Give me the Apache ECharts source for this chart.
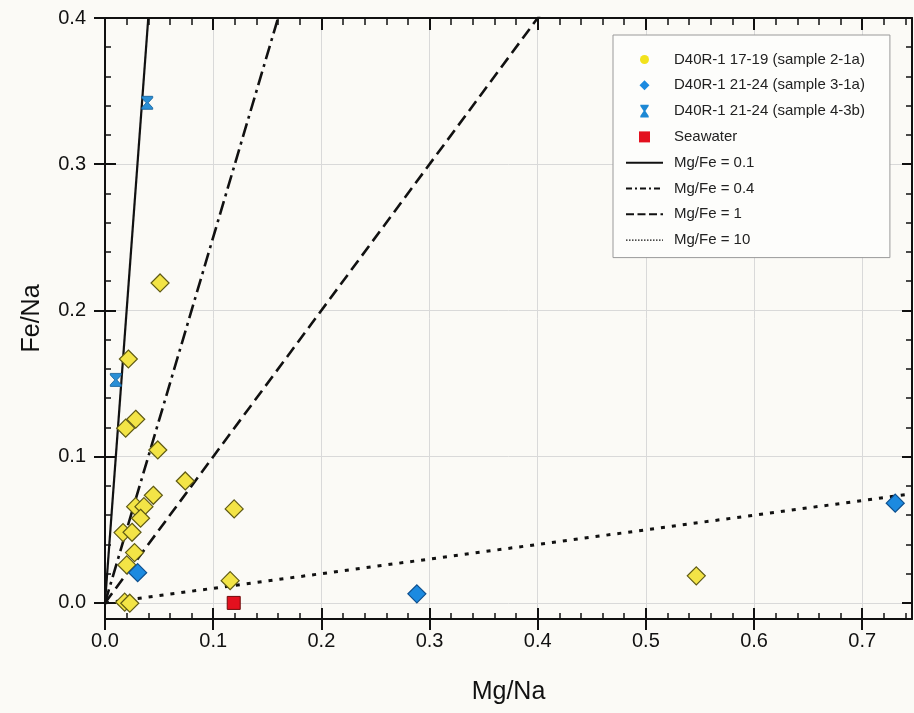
<!DOCTYPE html>
<html>
<head>
<meta charset="utf-8">
<script src="https://cdn.jsdelivr.net/npm/echarts@6/dist/echarts.min.js"></script>
<style>
  html, body { margin: 0; padding: 0; background: #fbfaf6; }
  #chart { width: 914px; height: 713px; }
</style>
</head>
<body>
<div id="chart"></div>
<script>
// Fe/Na versus Mg/Na (molar ratios) of fluid samples, with constant Mg/Fe reference lines

// D40R-1 17-19 (sample 2-1a): [Mg/Na, Fe/Na]
const sample21a = [
  [0.0509, 0.2188], [0.0216, 0.1668], [0.0191, 0.1195], [0.0284, 0.1256],
  [0.0488, 0.1046], [0.0742, 0.0834], [0.1194, 0.0643], [0.0447, 0.0736],
  [0.0283, 0.0658], [0.0360, 0.0658], [0.0329, 0.0579], [0.0167, 0.0481],
  [0.0250, 0.0483], [0.0273, 0.0344], [0.0201, 0.0260], [0.1157, 0.0152],
  [0.5466, 0.0185], [0.0182, 0.0005], [0.0229, -0.0002]
];
// D40R-1 21-24 (sample 3-1a)
const sample31a = [[0.0302, 0.0207], [0.2883, 0.0062], [0.7305, 0.0682]];
// D40R-1 21-24 (sample 4-3b)
const sample43b = [[0.039, 0.342], [0.010, 0.1525]];
// Seawater
const seawater = [[0.119, 0.0]];

// Reference lines of constant Mg/Fe
const mgFeRatios = [0.1, 0.4, 1, 10];

// Scatter group names
const groupNames = [
  'D40R-1 17-19 (sample 2-1a)',
  'D40R-1 21-24 (sample 3-1a)',
  'D40R-1 21-24 (sample 4-3b)',
  'Seawater'
];

// Axis ticks
const xTickValues = [0, 0.1, 0.2, 0.3, 0.4, 0.5, 0.6, 0.7];
const xTickLabels = ['0.0', '0.1', '0.2', '0.3', '0.4', '0.5', '0.6', '0.7'];
const yTickValues = [0, 0.1, 0.2, 0.3, 0.4];
const yTickLabels = ['0.0', '0.1', '0.2', '0.3', '0.4'];

const X_MIN = 0, X_MAX = 0.746;
const Y_MIN = -0.011, Y_MAX = 0.4;
const MINOR_STEP = 0.02;

function minorValues(lo, hi) {
  const out = [];
  for (let v = 0; v <= hi + 1e-9; v += MINOR_STEP) {
    const r = Math.round(v * 1000) / 1000;
    if (r >= lo && r <= hi) out.push(r);
  }
  return out;
}
const xMinorValues = minorValues(X_MIN, X_MAX);
const yMinorValues = minorValues(0, Y_MAX);

function labelFor(values, labels) {
  return function (v) {
    for (let i = 0; i < values.length; i++) {
      if (Math.abs(values[i] - v) < 1e-6) return labels[i];
    }
    return '';
  };
}

const FONT = "'Liberation Sans', Arial, Helvetica, sans-serif";
const INK = '#111111';

// Shape paths (extra move-to points pad the legend icon box to 37x14)
const hourglassPath = 'path://M0,0 L10,0 L10,1.6 L5.9,6.5 L10,11.4 L10,13 L0,13 L0,11.4 L4.1,6.5 L0,1.6 Z';
const legendCircle = 'path://M0,0 M37,14 M14,7 A4.5,4.5 0 1,0 23,7 A4.5,4.5 0 1,0 14,7 Z';
const legendDiamond = 'path://M0,0 M37,14 M18.5,2 L23.5,7 L18.5,12 L13.5,7 Z';
const legendHourglass = 'path://M0,0 M37,14 M14.3,0.6 L22.7,0.6 L22.7,2 L19.4,7 L22.7,12 L22.7,13.4 L14.3,13.4 L14.3,12 L17.6,7 L14.3,2 Z';
const legendSquare = 'path://M0,0 M37,14 M13,1.5 L24,1.5 L24,12.5 L13,12.5 Z';

function xAxisDef(position, values, tickLen, inside, extra) {
  return Object.assign({
    type: 'value', position: position, min: X_MIN, max: X_MAX, interval: 0.1,
    axisLine: { show: false, onZero: false },
    axisTick: {
      show: true, inside: inside, length: tickLen, customValues: values,
      lineStyle: { color: INK, width: tickLen > 8 ? 2 : 1.5 }
    },
    axisLabel: { show: false },
    splitLine: { show: false }
  }, extra || {});
}
function yAxisDef(position, values, tickLen, inside, extra) {
  return Object.assign({
    type: 'value', position: position, min: Y_MIN, max: Y_MAX, splitNumber: 4,
    axisLine: { show: false, onZero: false },
    axisTick: {
      show: true, inside: inside, length: tickLen, customValues: values,
      lineStyle: { color: INK, width: tickLen > 8 ? 2 : 1.5 }
    },
    axisLabel: { show: false },
    splitLine: { show: false }
  }, extra || {});
}

const frameLine = { show: true, onZero: false, lineStyle: { color: INK, width: 2 } };

const xAxes = [
  xAxisDef('bottom', xTickValues, 11, false, {
    axisLine: frameLine,
    name: 'Mg/Na', nameLocation: 'middle', nameGap: 61,
    nameTextStyle: { fontFamily: FONT, fontSize: 25, color: INK },
    axisLabel: {
      show: true, margin: 12, fontFamily: FONT, fontSize: 20, color: INK,
      customValues: xTickValues, formatter: labelFor(xTickValues, xTickLabels)
    },
    splitLine: { show: true, lineStyle: { color: '#d9d9d9', width: 1 } }
  }),
  xAxisDef('bottom', xTickValues, 11, true),
  xAxisDef('bottom', xMinorValues, 6, true),
  xAxisDef('top', xTickValues, 12, true, { axisLine: frameLine }),
  xAxisDef('top', xMinorValues, 7, true)
];
const yAxes = [
  yAxisDef('left', yTickValues, 11, false, {
    axisLine: frameLine,
    name: 'Fe/Na', nameLocation: 'middle', nameGap: 60,
    nameTextStyle: { fontFamily: FONT, fontSize: 25, color: INK },
    axisLabel: {
      show: true, margin: 19, fontFamily: FONT, fontSize: 20, color: INK,
      customValues: yTickValues, formatter: labelFor(yTickValues, yTickLabels)
    },
    splitLine: { show: true, lineStyle: { color: '#d9d9d9', width: 1 } }
  }),
  yAxisDef('left', yTickValues, 11, true),
  yAxisDef('left', yMinorValues, 6, true),
  yAxisDef('right', yTickValues, 10, true, { axisLine: frameLine }),
  yAxisDef('right', yMinorValues, 6, true)
];

// Reference line styles, one per Mg/Fe ratio
const ratioDash = [null, [14, 5, 3, 5], [12, 6], [4, 7]];
const ratioWidth = [2.2, 2.6, 2.6, 3];
const legendDash = [null, [6, 3, 2, 3], [8, 3.5], [1.5, 1.5]];
const legendWidth = [2, 2, 2, 1.3];
const ratioNames = mgFeRatios.map(r => 'Mg/Fe = ' + r);

const lineSeries = mgFeRatios.map((r, i) => ({
  name: ratioNames[i],
  type: 'line',
  data: [[0, 0], [X_MAX, X_MAX / r]],
  symbol: 'none',
  silent: true,
  clip: true,
  z: 2,
  lineStyle: { color: INK, width: ratioWidth[i], type: ratioDash[i] || 'solid', cap: 'butt' }
}));

const scatterSeries = [
  {
    name: groupNames[0], type: 'scatter', data: sample21a,
    symbol: 'diamond', symbolSize: 18, z: 3,
    itemStyle: { color: '#f3e446', borderColor: '#5f5a14', borderWidth: 1.2, opacity: 1 }
  },
  {
    name: groupNames[1], type: 'scatter', data: sample31a,
    symbol: 'diamond', symbolSize: 18, z: 3,
    itemStyle: { color: '#1c8ae0', borderColor: '#0d4f8e', borderWidth: 1.2, opacity: 1 }
  },
  {
    name: groupNames[2], type: 'scatter', data: sample43b,
    symbol: hourglassPath, symbolSize: [11, 13], z: 3,
    itemStyle: { color: '#2a8fd6', borderColor: '#125c96', borderWidth: 0.8, opacity: 1 }
  },
  {
    name: groupNames[3], type: 'scatter', data: seawater,
    symbol: 'rect', symbolSize: 13, z: 3,
    itemStyle: { color: '#e3101e', borderColor: '#6e0a0a', borderWidth: 1, opacity: 1 }
  }
];

const legendIcons = [legendCircle, legendDiamond, legendHourglass, legendSquare];
const legendColors = ['#f2e21c', '#1c8ae0', '#1c88d4', '#e3101e'];

const option = {
  animation: false,
  backgroundColor: '#fbfaf6',
  textStyle: { fontFamily: FONT },
  grid: { left: 105, right: 2, top: 18, bottom: 94, containLabel: false },
  xAxis: xAxes,
  yAxis: yAxes,
  legend: {
    orient: 'vertical',
    left: 613, top: 35,
    padding: [17, 25, 10, 12],
    itemWidth: 37, itemHeight: 14, itemGap: 10.8,
    backgroundColor: '#fdfdfb',
    borderColor: '#9a9a9a', borderWidth: 1,
    selectedMode: false,
    textStyle: { fontFamily: FONT, fontSize: 15, color: '#222', padding: [0, 0, 0, 6] },
    data: groupNames.map((n, i) => ({
      name: n, icon: legendIcons[i],
      itemStyle: { color: legendColors[i], borderWidth: 0 }
    })).concat(ratioNames.map((n, i) => ({
      name: n,
      itemStyle: { color: 'rgba(0,0,0,0)', borderColor: 'rgba(0,0,0,0)', borderWidth: 0, opacity: 0 },
      lineStyle: { color: INK, width: legendWidth[i], type: legendDash[i] || 'solid' }
    })))
  },
  series: lineSeries.concat(scatterSeries)
};

const chart = echarts.init(document.getElementById('chart'), null, { renderer: 'canvas' });
chart.setOption(option);
</script>
</body>
</html>
